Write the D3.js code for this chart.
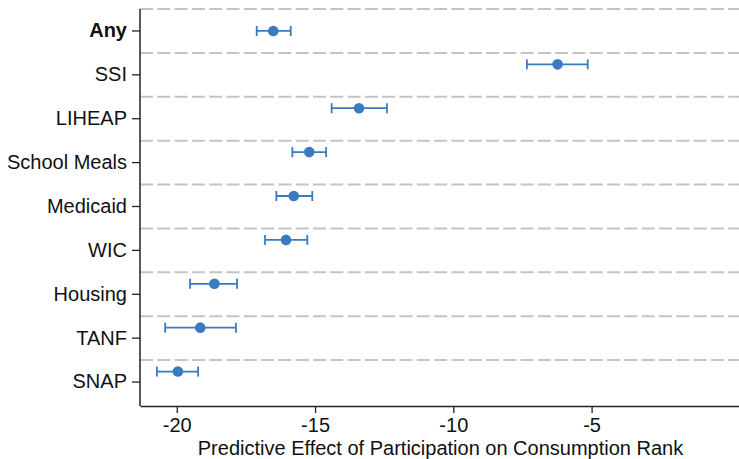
<!DOCTYPE html>
<html>
<head>
<meta charset="utf-8">
<script src="https://cdn.jsdelivr.net/npm/d3@7"></script>
<style>
  body { margin: 0; background: #fff; }
  svg { font-family: "Liberation Sans", Arial, sans-serif; }
</style>
</head>
<body>
<div id="chart"></div>
<script>
var width = 739,
  height = 459;

var margin = { top: 9, right: 0, bottom: 53, left: 140 };

// programs, top to bottom
var programs = ["Any", "SSI", "LIHEAP", "School Meals", "Medicaid", "WIC", "Housing", "TANF", "SNAP"];
var estimate = [-16.51, -6.23, -13.41, -15.21, -15.77, -16.05, -18.64, -19.15, -19.96];
var ciLow = [-17.11, -7.34, -14.40, -15.82, -16.40, -16.81, -19.52, -20.42, -20.72];
var ciHigh = [-15.88, -5.14, -12.40, -14.60, -15.10, -15.28, -17.82, -17.86, -19.23];
var xTicks = [-20, -15, -10, -5];

var rows = programs.map(function (p, i) {
  return { name: p, est: estimate[i], lo: ciLow[i], hi: ciHigh[i] };
});

var blue = "#3a7bbf";
var fontSize = 20;

var svg = d3
  .select("#chart")
  .append("svg")
  .attr("width", width)
  .attr("height", height);

var x = d3
  .scaleLinear()
  .domain([-21.33, 0.33])
  .range([margin.left, width - margin.right]);

var y = d3
  .scaleBand()
  .domain(programs)
  .range([margin.top, height - margin.bottom - 2])
  .padding(0);

// dashed separators at top of each band
svg
  .append("g")
  .selectAll("line")
  .data(programs)
  .enter()
  .append("line")
  .attr("x1", margin.left)
  .attr("x2", width)
  .attr("y1", function (d) { return y(d); })
  .attr("y2", function (d) { return y(d); })
  .attr("stroke", "#c4c4c4")
  .attr("stroke-width", 2)
  .attr("stroke-dasharray", "13,4.3");

// points sit a bit above tick for the program rows, "Any" is centred
function rowY(d) {
  var c = y(d.name) + y.bandwidth() / 2;
  return d.name === "Any" ? c : c - 10.5;
}

var g = svg.append("g");

g.selectAll("line.ci")
  .data(rows)
  .enter()
  .append("line")
  .attr("class", "ci")
  .attr("x1", function (d) { return x(d.lo); })
  .attr("x2", function (d) { return x(d.hi); })
  .attr("y1", rowY)
  .attr("y2", rowY)
  .attr("stroke", blue)
  .attr("stroke-width", 1.8);

["lo", "hi"].forEach(function (k) {
  g.selectAll("line.cap-" + k)
    .data(rows)
    .enter()
    .append("line")
    .attr("class", "cap-" + k)
    .attr("x1", function (d) { return x(d[k]); })
    .attr("x2", function (d) { return x(d[k]); })
    .attr("y1", function (d) { return rowY(d) - 5; })
    .attr("y2", function (d) { return rowY(d) + 5; })
    .attr("stroke", blue)
    .attr("stroke-width", 1.8);
});

g.selectAll("circle")
  .data(rows)
  .enter()
  .append("circle")
  .attr("cx", function (d) { return x(d.est); })
  .attr("cy", rowY)
  .attr("r", 5.3)
  .attr("fill", blue);

// axes
var yAxis = svg
  .append("g")
  .attr("transform", "translate(" + margin.left + ",0)")
  .call(d3.axisLeft(y).tickSize(8).tickPadding(5).tickSizeOuter(0));

yAxis.select(".domain").remove();
yAxis
  .append("line")
  .attr("x1", 0)
  .attr("x2", 0)
  .attr("y1", margin.top)
  .attr("y2", height - margin.bottom)
  .attr("stroke", "#222")
  .attr("stroke-width", 1.5);
yAxis.selectAll(".tick line").attr("stroke", "#222").attr("stroke-width", 1.3);
yAxis
  .selectAll(".tick text")
  .attr("font-size", fontSize)
  .attr("fill", "#111")
  .attr("font-weight", function (d) { return d === "Any" ? "bold" : "normal"; });

var xAxis = svg
  .append("g")
  .attr("transform", "translate(0," + (height - margin.bottom) + ")")
  .call(
    d3
      .axisBottom(x)
      .tickValues(xTicks)
      .tickFormat(function (d) { return String(d); })
      .tickSize(7)
      .tickPadding(5)
      .tickSizeOuter(0)
  );

xAxis.select(".domain").attr("stroke", "#222").attr("stroke-width", 1.5);
xAxis.selectAll(".tick line").attr("stroke", "#222").attr("stroke-width", 1.3);
xAxis.selectAll(".tick text").attr("font-size", fontSize).attr("fill", "#111");

svg
  .append("text")
  .attr("x", (198 + 683) / 2)
  .attr("y", height - 4)
  .attr("text-anchor", "middle")
  .attr("font-size", fontSize)
  .attr("fill", "#111")
  .text("Predictive Effect of Participation on Consumption Rank");
</script>
</body>
</html>
